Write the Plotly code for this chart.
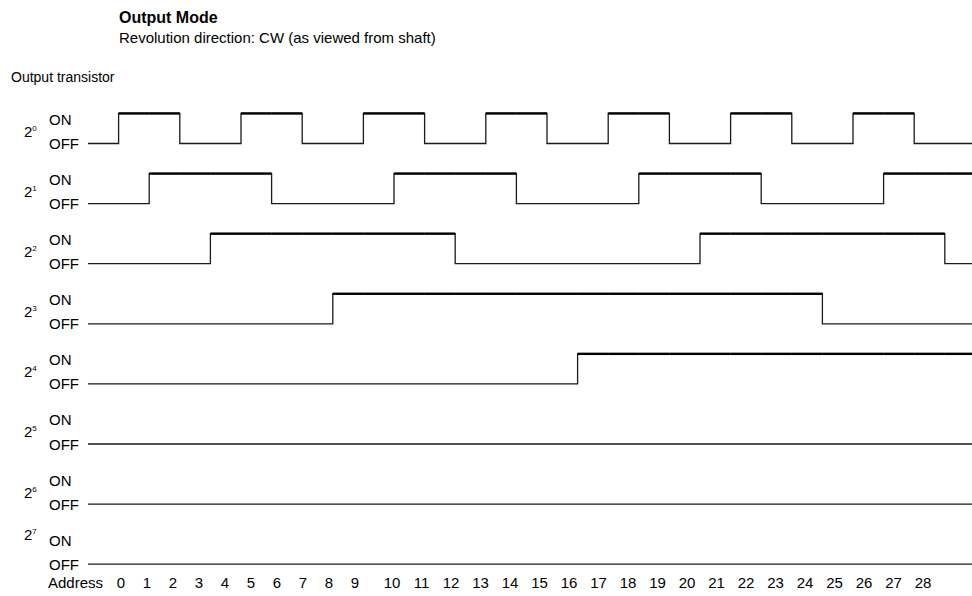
import plotly.graph_objects as go

# ---------------- data ----------------
addresses = list(range(29))
address_labels = [str(a) for a in addresses]
axis_title = "Address"

bit_exponents = ["0", "1", "2", "3", "4", "5", "6", "7"]
state_labels = ["ON", "OFF"]

bit0 = [0, 1, 1, 0, 0, 1, 1, 0, 0, 1, 1, 0, 0, 1, 1, 0, 0, 1, 1, 0, 0, 1, 1, 0, 0, 1, 1, 0, 0]
bit1 = [0, 0, 1, 1, 1, 1, 0, 0, 0, 0, 1, 1, 1, 1, 0, 0, 0, 0, 1, 1, 1, 1, 0, 0, 0, 0, 1, 1, 1]
bit2 = [0, 0, 0, 0, 1, 1, 1, 1, 1, 1, 1, 1, 0, 0, 0, 0, 0, 0, 0, 0, 1, 1, 1, 1, 1, 1, 1, 1, 0]
bit3 = [0, 0, 0, 0, 0, 0, 0, 0, 1, 1, 1, 1, 1, 1, 1, 1, 1, 1, 1, 1, 1, 1, 1, 1, 0, 0, 0, 0, 0]
bit4 = [0, 0, 0, 0, 0, 0, 0, 0, 0, 0, 0, 0, 0, 0, 0, 0, 1, 1, 1, 1, 1, 1, 1, 1, 1, 1, 1, 1, 1]
bit5 = [0, 0, 0, 0, 0, 0, 0, 0, 0, 0, 0, 0, 0, 0, 0, 0, 0, 0, 0, 0, 0, 0, 0, 0, 0, 0, 0, 0, 0]
bit6 = [0, 0, 0, 0, 0, 0, 0, 0, 0, 0, 0, 0, 0, 0, 0, 0, 0, 0, 0, 0, 0, 0, 0, 0, 0, 0, 0, 0, 0]
bit7 = [0, 0, 0, 0, 0, 0, 0, 0, 0, 0, 0, 0, 0, 0, 0, 0, 0, 0, 0, 0, 0, 0, 0, 0, 0, 0, 0, 0, 0]
bits = [bit0, bit1, bit2, bit3, bit4, bit5, bit6, bit7]

title_text = "Output Mode"
subtitle_text = "Revolution direction: CW (as viewed from shaft)"
side_title = "Output transistor"

# ---------------- layout helpers ----------------
W, H = 972, 596
MB = 24                      # bottom margin for address labels
PH = H - MB                  # plot height in px
X0_PX, U_PX = 88.0, 30.6     # px of address 0 start, px per address
ROW0_PX, UNIT_PX = 143.5, 30.05

def px_to_x(p):
    return (p - X0_PX) / U_PX

def py_paper(p):
    return (PH - p) / PH

FONT = "Liberation Sans, Arial, Helvetica, sans-serif"

# address label positions (label spacing of the original table)
def label_px(i):
    return 121 + 26 * i if i <= 9 else 392 + 29.5 * (i - 10)

tickvals = [px_to_x(75.5)] + [px_to_x(label_px(i)) for i in range(len(addresses))]
ticktext = [axis_title] + address_labels

fig = go.Figure()
for k, states in enumerate(bits):
    base = -2 * k
    xs = addresses + [addresses[-1] + 1]
    ys = [base + s for s in states] + [base + states[-1]]
    fig.add_trace(go.Scatter(x=xs, y=ys, mode="lines", line_shape="hv",
                             line=dict(color="#1a1a1a", width=1.3),
                             hoverinfo="skip", showlegend=False))
    onx, ony = [], []
    for a, s in zip(addresses, states):
        if s == 1:
            onx += [a, a + 1, None]
            ony += [base + 1, base + 1, None]
    if onx:
        fig.add_trace(go.Scatter(x=onx, y=ony, mode="lines",
                                 line=dict(color="#000000", width=2.4),
                                 hoverinfo="skip", showlegend=False))

annotations = []
def ann(text, xp, yv, size=14, yref="y", bold=False):
    annotations.append(dict(text=("<b>%s</b>" % text) if bold else text,
                            x=xp, xref="paper", y=yv, yref=yref,
                            xanchor="left", yanchor="middle", showarrow=False,
                            font=dict(family=FONT, size=size, color="#000")))

for k in range(len(bits)):
    base = -2 * k
    ann(state_labels[0], 47 / W, base + 0.8, size=15)
    ann(state_labels[1], 47 / W, base, size=15)
    label = "2<sup><span style='font-size:8px'>%s</span></sup>" % bit_exponents[k]
    ann(label, 22 / W, base + (1.0 if k == 7 else 0.4), size=15)

ann(title_text, 117 / W, py_paper(18), size=16, yref="paper", bold=True)
ann(subtitle_text, 117 / W, py_paper(37), size=15, yref="paper")
ann(side_title, 9 / W, py_paper(77), size=14, yref="paper")

fig.update_layout(
    width=W, height=H,
    margin=dict(l=0, r=0, t=0, b=MB),
    paper_bgcolor="white", plot_bgcolor="white",
    template="none",
    showlegend=False,
    annotations=annotations,
    xaxis=dict(range=[px_to_x(0), px_to_x(W)], showgrid=False, zeroline=False,
               showline=False, ticks="", tickmode="array", tickvals=tickvals,
               ticktext=ticktext, tickfont=dict(family=FONT, size=15, color="#000"),
               automargin=False, fixedrange=True),
    yaxis=dict(range=[-(PH - ROW0_PX) / UNIT_PX, ROW0_PX / UNIT_PX], showgrid=False,
               zeroline=False, showline=False, showticklabels=False, ticks="",
               automargin=False, fixedrange=True),
)

fig.write_html("out.html", config={"displayModeBar": False},
               post_script="document.body.style.margin='0px';"
                           "document.body.style.overflow='hidden';")
